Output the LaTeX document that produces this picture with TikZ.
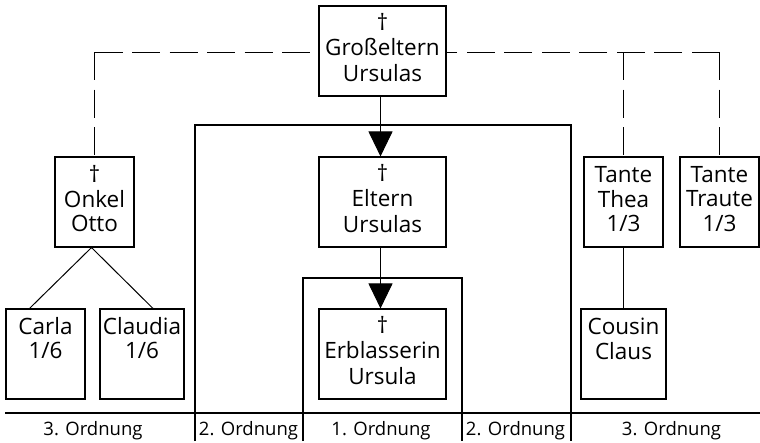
\documentclass[tikz,border=0pt]{standalone}
\usepackage{fontspec}
\setmainfont{Open Sans}
\usetikzlibrary{arrows.meta,calc}
\newcommand{\ls}{\vrule height 17pt depth 7.3pt width 0pt}
\tikzset{
  person/.style={draw, line width=1.1pt, inner sep=0pt, align=center,
    minimum height=90pt, font=\fontsize{22.5}{24.3}\selectfont},
  dsh/.style={line width=1pt, dash pattern=on 28pt off 9.5pt},
  link/.style={line width=1pt},
  frame/.style={line width=1.2pt},
  bigarrow/.style={line width=1pt, -{Triangle[width=24pt,length=25pt]}},
  ordn/.style={anchor=base, inner sep=0pt, font=\fontsize{18.5}{20}\selectfont}
}
\begin{document}
\begin{tikzpicture}[x=1pt,y=-1pt]
\useasboundingbox (0,0) rectangle (760,442);
% persons
\node[person, minimum width=127pt] (G) at (382.5,51) {\ls †\\\ls Großeltern\\\ls Ursulas};
\node[person, minimum width=127pt] (E) at (382.5,202) {\ls †\\\ls Eltern\\\ls Ursulas};
\node[person, minimum width=127pt] (U) at (382.5,354) {\ls †\\\ls Erblasserin\\\ls Ursula};
\node[person, minimum width=79pt] (O) at (94.5,202) {\ls †\\\ls Onkel\\\ls Otto};
\node[person, minimum width=79pt] (Ca) at (45.5,354) {\ls Carla\\\ls 1/6\\\ls};
\node[person, minimum width=84pt] (Cl) at (142,354) {\ls Claudia\\\ls 1/6\\\ls};
\node[person, minimum width=79pt] (Th) at (623.5,202) {\ls Tante\\\ls Thea\\\ls 1/3};
\node[person, minimum width=79pt] (Tr) at (719.5,202) {\ls Tante\\\ls Traute\\\ls 1/3};
\node[person, minimum width=85pt] (Co) at (623.5,354) {\ls Cousin\\\ls Claus\\\ls};
% frames
\coordinate (f1) at (195,441);
\coordinate (f2) at (195,125);
\coordinate (f3) at (571,125);
\coordinate (f4) at (571,441);
\draw[frame] (f1) -- (f2) -- (f3) -- (f4);
\coordinate (g1) at (303,441);
\coordinate (g2) at (303,278);
\coordinate (g3) at (462,278);
\coordinate (g4) at (462,441);
\draw[frame] (g1) -- (g2) -- (g3) -- (g4);
\coordinate (h1) at (5,413);
\coordinate (h2) at (760,413);
\draw[frame] (h1) -- (h2);
% dashed relations
\coordinate (cl) at ([yshift=-1pt]O.north |- G.west);
\coordinate (cr) at ([yshift=-1pt]Tr.north |- G.east);
\coordinate (ct) at ([yshift=-1pt]Th.north |- G.east);
\draw[dsh] (cl) -- ([yshift=-1pt]G.west);
\draw[dsh] (cl) -- (O.north);
\draw[dsh] (cr) -- ([yshift=-1pt]G.east);
\draw[dsh] (cr) -- (Tr.north);
\draw[dsh] (ct) -- (Th.north);
% solid relations
\draw[link] ([xshift=-3pt]O.south) -- ([xshift=-16pt]Ca.north);
\draw[link] ([xshift=-3pt]O.south) -- ([xshift=11pt]Cl.north);
\draw[link] (Th.south) -- (Co.north);
\draw[bigarrow] ([xshift=-2pt]G.south) -- ([xshift=-2pt]E.north);
\draw[bigarrow] ([xshift=-2pt]E.south) -- ([xshift=-2pt]U.north);
% orders
\node[ordn] (o1) at (93,435) {3. Ordnung};
\node[ordn] (o2) at (248.5,435) {2. Ordnung};
\node[ordn] (o3) at (381,435) {1. Ordnung};
\node[ordn] (o4) at (515.5,435) {2. Ordnung};
\node[ordn] (o5) at (671.5,435) {3. Ordnung};
\end{tikzpicture}
\end{document}
